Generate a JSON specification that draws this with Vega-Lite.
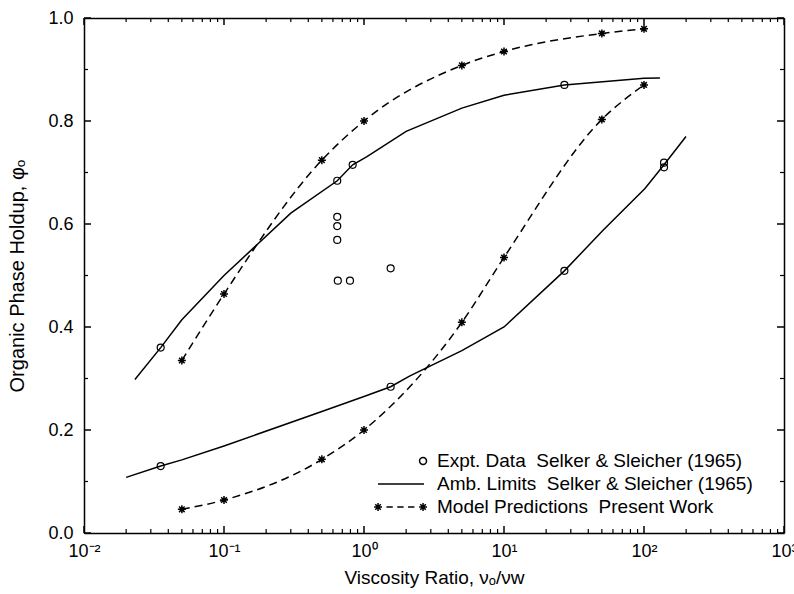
{
  "$schema": "https://vega.github.io/schema/vega-lite/v6.json",
  "width": 700,
  "height": 515,
  "autosize": "none",
  "padding": {"left": 84, "top": 18, "right": 10, "bottom": 61},
  "config": {
    "view": {"stroke": null},
    "font": "Liberation Sans",
    "axis": {
      "labelFont": "Liberation Sans",
      "titleFont": "Liberation Sans",
      "labelFontSize": 18,
      "titleFontSize": 19,
      "titleFontWeight": "normal",
      "labelColor": "black",
      "titleColor": "black",
      "domainColor": "black",
      "domainWidth": 1.5,
      "ticks": false,
      "grid": false,
      "labelOverlap": false,
      "labelFlush": false
    },
    "legend": {
      "labelFont": "Liberation Sans",
      "labelFontSize": 19,
      "labelColor": "black"
    }
  },
  "datasets": {
    "lines": [
      {"series": "ambU", "x": 0.0231, "y": 0.298},
      {"series": "ambU", "x": 0.0353, "y": 0.36},
      {"series": "ambU", "x": 0.05, "y": 0.414},
      {"series": "ambU", "x": 0.1, "y": 0.5},
      {"series": "ambU", "x": 0.3, "y": 0.621},
      {"series": "ambU", "x": 0.644, "y": 0.684},
      {"series": "ambU", "x": 0.83, "y": 0.715},
      {"series": "ambU", "x": 1.05, "y": 0.731},
      {"series": "ambU", "x": 2, "y": 0.78},
      {"series": "ambU", "x": 5, "y": 0.825},
      {"series": "ambU", "x": 10, "y": 0.85},
      {"series": "ambU", "x": 27, "y": 0.87},
      {"series": "ambU", "x": 100, "y": 0.883},
      {"series": "ambU", "x": 130, "y": 0.8835},
      {"series": "ambL", "x": 0.02, "y": 0.108},
      {"series": "ambL", "x": 0.0353, "y": 0.13},
      {"series": "ambL", "x": 0.05, "y": 0.142},
      {"series": "ambL", "x": 0.1, "y": 0.169},
      {"series": "ambL", "x": 0.5, "y": 0.236},
      {"series": "ambL", "x": 1, "y": 0.265},
      {"series": "ambL", "x": 1.55, "y": 0.284},
      {"series": "ambL", "x": 2.13, "y": 0.305},
      {"series": "ambL", "x": 5, "y": 0.354},
      {"series": "ambL", "x": 10, "y": 0.4},
      {"series": "ambL", "x": 27, "y": 0.509},
      {"series": "ambL", "x": 51, "y": 0.588},
      {"series": "ambL", "x": 101.6, "y": 0.669},
      {"series": "ambL", "x": 139, "y": 0.715},
      {"series": "ambL", "x": 199.5, "y": 0.77}
    ],
    "model": [
      {"series": "modU", "x": 0.05, "y": 0.335},
      {"series": "modU", "x": 0.1, "y": 0.464},
      {"series": "modU", "x": 0.5, "y": 0.724},
      {"series": "modU", "x": 1, "y": 0.8},
      {"series": "modU", "x": 5, "y": 0.908},
      {"series": "modU", "x": 10, "y": 0.935},
      {"series": "modU", "x": 50, "y": 0.97},
      {"series": "modU", "x": 100, "y": 0.979},
      {"series": "modL", "x": 0.05, "y": 0.046},
      {"series": "modL", "x": 0.1, "y": 0.064},
      {"series": "modL", "x": 0.5, "y": 0.143},
      {"series": "modL", "x": 1, "y": 0.2},
      {"series": "modL", "x": 5, "y": 0.409},
      {"series": "modL", "x": 10, "y": 0.535},
      {"series": "modL", "x": 50, "y": 0.803},
      {"series": "modL", "x": 100, "y": 0.87}
    ],
    "expt": [
      {"x": 0.0353, "y": 0.36},
      {"x": 0.0353, "y": 0.13},
      {"x": 0.644, "y": 0.684},
      {"x": 0.83, "y": 0.715},
      {"x": 0.644, "y": 0.614},
      {"x": 0.644, "y": 0.596},
      {"x": 0.644, "y": 0.569},
      {"x": 0.65, "y": 0.49},
      {"x": 0.794, "y": 0.49},
      {"x": 1.55, "y": 0.514},
      {"x": 1.55, "y": 0.284},
      {"x": 27, "y": 0.87},
      {"x": 27, "y": 0.509},
      {"x": 139, "y": 0.719},
      {"x": 139, "y": 0.71}
    ],
    "legendItems": [
      {"leg": "Expt. Data\u00a0\u00a0Selker & Sleicher (1965)"},
      {"leg": "Amb. Limits\u00a0\u00a0Selker & Sleicher (1965)"},
      {"leg": "Model Predictions\u00a0\u00a0Present Work"}
    ],
    "xMajor": [{"v": 0.01}, {"v": 0.1}, {"v": 1}, {"v": 10}, {"v": 100}, {"v": 1000}],
    "xMinor": [
      {"v": 0.02}, {"v": 0.03}, {"v": 0.04}, {"v": 0.05}, {"v": 0.06}, {"v": 0.07}, {"v": 0.08}, {"v": 0.09},
      {"v": 0.2}, {"v": 0.3}, {"v": 0.4}, {"v": 0.5}, {"v": 0.6}, {"v": 0.7}, {"v": 0.8}, {"v": 0.9},
      {"v": 2}, {"v": 3}, {"v": 4}, {"v": 5}, {"v": 6}, {"v": 7}, {"v": 8}, {"v": 9},
      {"v": 20}, {"v": 30}, {"v": 40}, {"v": 50}, {"v": 60}, {"v": 70}, {"v": 80}, {"v": 90},
      {"v": 200}, {"v": 300}, {"v": 400}, {"v": 500}, {"v": 600}, {"v": 700}, {"v": 800}, {"v": 900}
    ],
    "yMajor": [{"v": 0}, {"v": 0.2}, {"v": 0.4}, {"v": 0.6}, {"v": 0.8}, {"v": 1}],
    "yMinor": [{"v": 0.1}, {"v": 0.3}, {"v": 0.5}, {"v": 0.7}, {"v": 0.9}]
  },
  "resolve": {"axis": {"x": "independent", "y": "independent"}},
  "layer": [
    {
      "data": {"name": "lines"},
      "mark": {"type": "line", "color": "black", "strokeWidth": 1.5},
      "encoding": {
        "x": {
          "field": "x", "type": "quantitative",
          "scale": {"type": "log", "domain": [0.01, 1000], "nice": false},
          "axis": {
            "orient": "bottom",
            "title": "Viscosity Ratio, νₒ/νw",
            "titlePadding": 8,
            "values": [0.01, 0.1, 1, 10, 100, 1000],
            "labelExpr": "datum.value == 0.01 ? '10⁻²' : datum.value == 0.1 ? '10⁻¹' : datum.value == 1 ? '10⁰' : datum.value == 10 ? '10¹' : datum.value == 100 ? '10²' : datum.value == 1000 ? '10³' : ''",
            "labelPadding": 9
          }
        },
        "y": {
          "field": "y", "type": "quantitative",
          "scale": {"domain": [0, 1], "nice": false},
          "axis": {
            "orient": "left",
            "title": "Organic Phase Holdup, φₒ",
            "titleFontSize": 20,
            "titlePadding": 20,
            "values": [0, 0.2, 0.4, 0.6, 0.8, 1],
            "format": ".1f",
            "labelPadding": 11
          }
        },
        "detail": {"field": "series"}
      }
    },
    {
      "data": {"name": "model"},
      "mark": {"type": "line", "color": "black", "strokeWidth": 1.5, "strokeDash": [8, 5], "interpolate": "monotone"},
      "encoding": {
        "x": {
          "field": "x", "type": "quantitative",
          "axis": {"orient": "top", "title": null, "labels": false, "values": [0.01, 0.1, 1, 10, 100, 1000]}
        },
        "y": {
          "field": "y", "type": "quantitative",
          "axis": {"orient": "right", "title": null, "labels": false, "values": [0, 0.2, 0.4, 0.6, 0.8, 1]}
        },
        "detail": {"field": "series"}
      }
    },
    {
      "data": {"name": "xMajor"},
      "mark": {"type": "rule", "color": "black", "strokeWidth": 1.5},
      "encoding": {
        "x": {"field": "v", "type": "quantitative", "axis": null},
        "y": {"datum": 0, "type": "quantitative", "axis": null},
        "y2": {"datum": 0.0136}
      }
    },
    {
      "data": {"name": "xMinor"},
      "mark": {"type": "rule", "color": "black", "strokeWidth": 1.2},
      "encoding": {
        "x": {"field": "v", "type": "quantitative", "axis": null},
        "y": {"datum": 0, "type": "quantitative", "axis": null},
        "y2": {"datum": 0.0078}
      }
    },
    {
      "data": {"name": "xMajor"},
      "mark": {"type": "rule", "color": "black", "strokeWidth": 1.5},
      "encoding": {
        "x": {"field": "v", "type": "quantitative", "axis": null},
        "y": {"datum": 1, "type": "quantitative", "axis": null},
        "y2": {"datum": 0.9864}
      }
    },
    {
      "data": {"name": "xMinor"},
      "mark": {"type": "rule", "color": "black", "strokeWidth": 1.2},
      "encoding": {
        "x": {"field": "v", "type": "quantitative", "axis": null},
        "y": {"datum": 1, "type": "quantitative", "axis": null},
        "y2": {"datum": 0.9922}
      }
    },
    {
      "data": {"name": "yMajor"},
      "mark": {"type": "rule", "color": "black", "strokeWidth": 1.5},
      "encoding": {
        "y": {"field": "v", "type": "quantitative", "axis": null},
        "x": {"datum": 0.01, "type": "quantitative", "axis": null},
        "x2": {"datum": 0.01122}
      }
    },
    {
      "data": {"name": "yMinor"},
      "mark": {"type": "rule", "color": "black", "strokeWidth": 1.2},
      "encoding": {
        "y": {"field": "v", "type": "quantitative", "axis": null},
        "x": {"datum": 0.01, "type": "quantitative", "axis": null},
        "x2": {"datum": 0.01068}
      }
    },
    {
      "data": {"name": "yMajor"},
      "mark": {"type": "rule", "color": "black", "strokeWidth": 1.5},
      "encoding": {
        "y": {"field": "v", "type": "quantitative", "axis": null},
        "x": {"datum": 1000, "type": "quantitative", "axis": null},
        "x2": {"datum": 891.3}
      }
    },
    {
      "data": {"name": "yMinor"},
      "mark": {"type": "rule", "color": "black", "strokeWidth": 1.2},
      "encoding": {
        "y": {"field": "v", "type": "quantitative", "axis": null},
        "x": {"datum": 1000, "type": "quantitative", "axis": null},
        "x2": {"datum": 936.3}
      }
    },
    {
      "data": {"name": "expt"},
      "mark": {"type": "point", "shape": "circle", "filled": false, "color": "black", "strokeWidth": 1.2, "size": 49, "opacity": 1},
      "encoding": {
        "x": {"field": "x", "type": "quantitative", "axis": null},
        "y": {"field": "y", "type": "quantitative", "axis": null}
      }
    },
    {
      "data": {"name": "model"},
      "mark": {"type": "point", "shape": "M-1,0H1M0,-1V1M-0.7,-0.7L0.7,0.7M-0.7,0.7L0.7,-0.7", "filled": false, "color": "black", "strokeWidth": 1.5, "size": 64, "opacity": 1},
      "encoding": {
        "x": {"field": "x", "type": "quantitative", "axis": null},
        "y": {"field": "y", "type": "quantitative", "axis": null}
      }
    },
    {
      "data": {"name": "legendItems"},
      "transform": [{"filter": "false"}],
      "mark": {"type": "point", "filled": false, "color": "black", "strokeWidth": 1.5, "size": 576, "opacity": 1},
      "encoding": {
        "shape": {
          "field": "leg", "type": "nominal",
          "scale": {
            "domain": ["Expt. Data\u00a0\u00a0Selker & Sleicher (1965)", "Amb. Limits\u00a0\u00a0Selker & Sleicher (1965)", "Model Predictions\u00a0\u00a0Present Work"],
            "range": [
              "M0.63,0A0.29,0.29 0 1,0 1.21,0A0.29,0.29 0 1,0 0.63,0",
              "M-2.83,0H1",
              "M-3.16,0H-2.5M-2.83,-0.33V0.33M-3.06,-0.23L-2.6,0.23M-3.06,0.23L-2.6,-0.23M-2.13,0H-1.6M-1.23,0H-0.7M-0.33,0H0.2M0.59,0H1.25M0.92,-0.33V0.33M0.69,-0.23L1.15,0.23M0.69,0.23L1.15,-0.23"
            ]
          },
          "legend": {
            "title": null,
            "orient": "none",
            "legendX": 315,
            "legendY": 430,
            "padding": 0,
            "symbolSize": 576,
            "symbolStrokeWidth": 1.5,
            "symbolStrokeColor": "black",
            "symbolFillColor": "transparent",
            "symbolOpacity": 1,
            "labelOffset": 12,
            "rowPadding": 0,
            "labelLimit": 0
          }
        }
      }
    }
  ]
}
